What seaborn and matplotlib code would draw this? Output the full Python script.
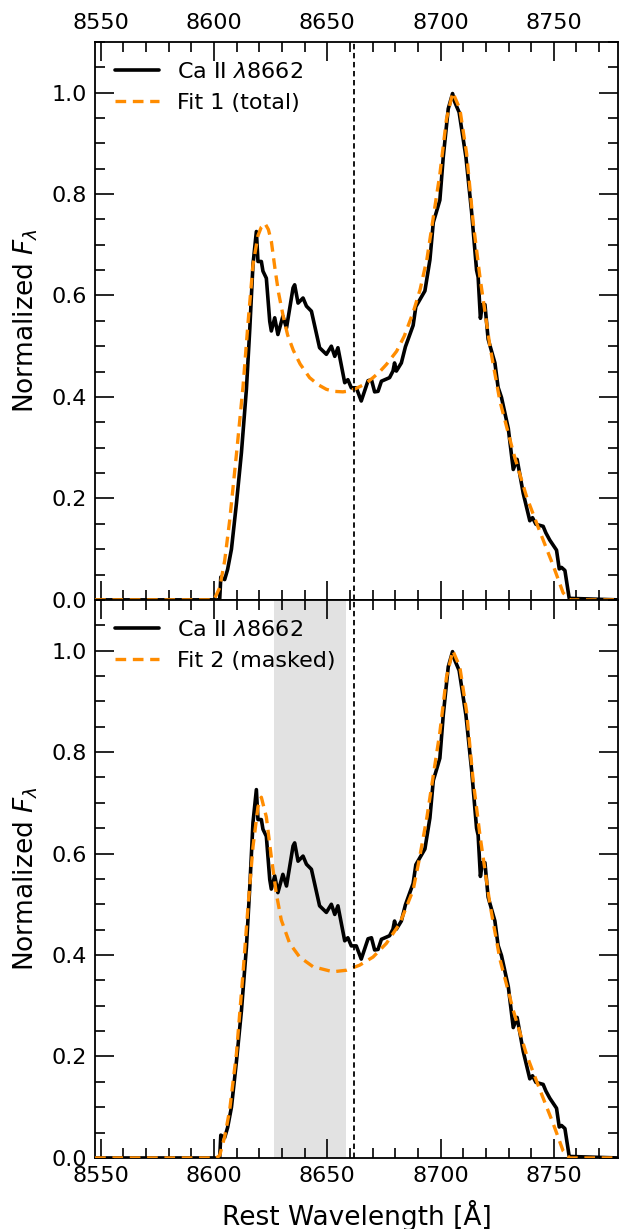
import numpy as np
import pandas as pd
import matplotlib
matplotlib.use("Agg")
import matplotlib.pyplot as plt
import seaborn as sns
from matplotlib.ticker import MultipleLocator

# ---------------- data ----------------
spec_wl = [8547.5, 8602.5, 8603.0, 8604.7, 8606.0, 8607.7, 8609.9, 8612.1, 8614.3, 8615.8,
           8617.2, 8618.7, 8619.4, 8620.9, 8621.6, 8623.1, 8624.6, 8625.3, 8626.8, 8628.2,
           8630.4, 8632.0, 8634.9, 8635.6, 8637.1, 8639.3, 8640.8, 8643.0, 8646.6, 8649.6,
           8651.8, 8653.3, 8654.7, 8657.7, 8659.1, 8660.6, 8662.8, 8665.0, 8668.0, 8669.5,
           8670.9, 8672.4, 8673.9, 8677.5, 8679.0, 8679.7, 8680.5, 8682.7, 8684.5, 8687.9,
           8689.1, 8693.1, 8695.3, 8696.8, 8698.2, 8699.7, 8701.2, 8703.4, 8705.3, 8706.3,
           8708.2, 8711.2, 8713.7, 8715.9, 8716.6, 8717.6, 8718.5, 8719.6, 8721.0, 8724.0,
           8725.4, 8726.9, 8729.9, 8732.1, 8733.8, 8736.5, 8739.4, 8740.6, 8742.1, 8745.3,
           8746.5, 8748.2, 8751.2, 8752.4, 8753.4, 8754.9, 8756.8, 8778.5]
spec_flux = [0.0, 0.0, 0.045, 0.040, 0.060, 0.100, 0.190, 0.290, 0.415, 0.535,
             0.661, 0.726, 0.667, 0.667, 0.648, 0.634, 0.549, 0.530, 0.556, 0.523,
             0.559, 0.536, 0.615, 0.621, 0.585, 0.595, 0.579, 0.569, 0.497, 0.484,
             0.500, 0.480, 0.497, 0.428, 0.434, 0.418, 0.418, 0.392, 0.432, 0.434,
             0.410, 0.411, 0.431, 0.438, 0.451, 0.467, 0.451, 0.467, 0.499, 0.541,
             0.578, 0.609, 0.670, 0.744, 0.765, 0.788, 0.873, 0.968, 0.998, 0.981,
             0.961, 0.873, 0.765, 0.650, 0.636, 0.555, 0.582, 0.582, 0.514, 0.467,
             0.419, 0.399, 0.338, 0.257, 0.277, 0.210, 0.156, 0.162, 0.149, 0.145,
             0.132, 0.118, 0.098, 0.061, 0.064, 0.058, 0.003, 0.0]

fit1_wl = [8547.5, 8600.0, 8602.5, 8604.7, 8606.9, 8609.9, 8612.8, 8615.0, 8617.2, 8619.4,
           8620.9, 8622.5, 8624.0, 8625.3, 8627.0, 8628.5, 8630.5, 8632.5, 8635.0, 8638.0,
           8642.2, 8646.0, 8649.6, 8653.0, 8656.9, 8660.0, 8662.8, 8666.5, 8670.2, 8673.0,
           8676.1, 8680.6, 8684.0, 8688.0, 8691.0, 8694.0, 8697.0, 8699.7, 8702.6, 8705.4,
           8708.5, 8711.5, 8714.4, 8717.4, 8721.8, 8726.2, 8732.1, 8738.0, 8743.8, 8749.7,
           8754.1, 8757.0, 8778.5]
fit1_flux = [0.0, 0.0, 0.024, 0.077, 0.156, 0.287, 0.420, 0.545, 0.660, 0.718,
             0.735, 0.742, 0.730, 0.707, 0.650, 0.605, 0.560, 0.522, 0.492, 0.465,
             0.438, 0.424, 0.415, 0.411, 0.410, 0.412, 0.417, 0.425, 0.438, 0.449,
             0.464, 0.490, 0.520, 0.568, 0.612, 0.672, 0.760, 0.839, 0.947, 1.000,
             0.968, 0.880, 0.744, 0.636, 0.500, 0.392, 0.291, 0.203, 0.135, 0.068,
             0.014, 0.0, 0.0]

fit2_wl = [8547.5, 8601.0, 8602.5, 8604.7, 8606.9, 8609.9, 8612.8, 8615.0, 8617.2, 8619.4,
           8620.9, 8623.1, 8625.3, 8627.5, 8629.7, 8633.4, 8637.8, 8643.7, 8652.5, 8658.4,
           8664.3, 8670.2, 8676.1, 8682.0, 8687.9, 8690.8, 8694.0, 8697.0, 8699.7, 8702.6,
           8705.4, 8708.5, 8711.5, 8714.4, 8717.4, 8721.8, 8726.2, 8732.1, 8738.0, 8743.8,
           8749.7, 8754.1, 8757.0, 8778.5]
fit2_flux = [0.0, 0.0, 0.005, 0.042, 0.094, 0.206, 0.364, 0.495, 0.613, 0.692,
             0.711, 0.672, 0.593, 0.521, 0.469, 0.423, 0.396, 0.377, 0.367, 0.370,
             0.380, 0.396, 0.423, 0.462, 0.528, 0.593, 0.672, 0.760, 0.839, 0.947,
             1.000, 0.968, 0.880, 0.744, 0.636, 0.500, 0.392, 0.291, 0.203, 0.135,
             0.068, 0.014, 0.0, 0.0]

line_center = 8662
mask_region = [8626.3, 8658.1]
panel_fit_labels = ["Fit 1 (total)", "Fit 2 (masked)"]
spec_label = r"Ca II $\lambda$8662"
xticks = [8550, 8600, 8650, 8700, 8750]
yticks = [0.0, 0.2, 0.4, 0.6, 0.8, 1.0]

# ---------------- style ----------------
sns.set_style("ticks")
plt.rcParams["font.family"] = ["DejaVu Sans"]
plt.rcParams["mathtext.fontset"] = "dejavusans"
for key in ["text.color", "axes.labelcolor", "xtick.color", "ytick.color", "axes.edgecolor"]:
    plt.rcParams[key] = "black"

spec_df = pd.DataFrame({"wl": spec_wl, "flux": spec_flux})
fit_dfs = [pd.DataFrame({"wl": fit1_wl, "flux": fit1_flux}),
           pd.DataFrame({"wl": fit2_wl, "flux": fit2_flux})]

fig = plt.figure(figsize=(6.2, 12.29), dpi=100)
gs = fig.add_gridspec(2, 1, left=0.153, right=0.997, top=0.966, bottom=0.0578, hspace=0)
axes = [fig.add_subplot(gs[0]), None]
axes[1] = fig.add_subplot(gs[1], sharex=axes[0])

orange = "#FF8C00"
for i, ax in enumerate(axes):
    if i == 1:
        ax.axvspan(mask_region[0], mask_region[1], color="0.885", lw=0, zorder=0)
    sns.lineplot(data=spec_df, x="wl", y="flux", ax=ax, color="black", lw=2.6,
                 estimator=None, sort=False, label=spec_label, zorder=3)
    sns.lineplot(data=fit_dfs[i], x="wl", y="flux", ax=ax, color=orange, lw=2.4,
                 estimator=None, sort=False, label=panel_fit_labels[i], zorder=4,
                 linestyle=(0, (3.2, 2.0)))
    ax.axvline(line_center, color="black", ls=(0, (3, 2)), lw=1.3, zorder=5)

    ax.set_xlim(8547.4, 8778.4)
    ax.set_ylim(0, 1.1)
    ax.set_xticks(xticks)
    ax.set_yticks(yticks)
    ax.xaxis.set_minor_locator(MultipleLocator(10))
    ax.yaxis.set_minor_locator(MultipleLocator(0.05))
    ax.tick_params(which="both", direction="in", top=True, right=True,
                   bottom=True, left=True, width=1.2, labelsize=16, pad=6,
                   color="black", labelcolor="black")
    ax.tick_params(which="major", length=14)
    ax.tick_params(which="minor", length=7)
    for s in ax.spines.values():
        s.set_linewidth(1.3)
        s.set_color("black")
    ax.set_ylabel(r"Normalized $F_\lambda$", fontsize=19, labelpad=8, color="black")
    ax.set_xlabel("")
    leg = ax.legend(loc="upper left", frameon=False, fontsize=16)
    for t in leg.get_texts():
        t.set_color("black")

axes[0].tick_params(axis="x", which="both", labeltop=True, labelbottom=False)
axes[1].tick_params(axis="x", which="both", labeltop=False, labelbottom=True)
axes[1].set_xlabel("Rest Wavelength [Å]", fontsize=19, labelpad=10, color="black")

fig.savefig("out.png", dpi=100)
